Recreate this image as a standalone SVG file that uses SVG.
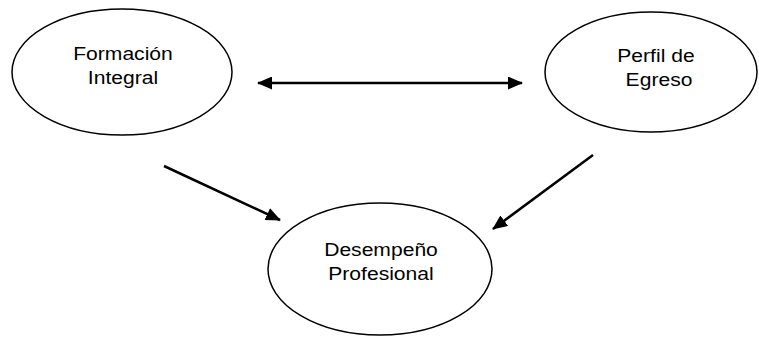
<svg xmlns="http://www.w3.org/2000/svg" width="759" height="337" viewBox="0 0 759 337">
<defs>
<style>
.node ellipse{fill:#fff;stroke:#000;stroke-width:1.5}
.node text{font-family:"Liberation Sans",Arial,sans-serif;font-size:18.5px;fill:#000;text-anchor:middle}
.conn line{stroke:#000;stroke-width:2.5}
</style>
<marker id="ah" viewBox="0 0 15 13" refX="14" refY="6.5" markerWidth="15" markerHeight="13" markerUnits="userSpaceOnUse" orient="auto-start-reverse">
<path d="M0,0 L15,6.5 L0,13 z" fill="#000"/>
</marker>
</defs>
<rect width="759" height="337" fill="#fff"/>
<g id="formacion" class="node">
<ellipse cx="122" cy="72" rx="110" ry="63"/>
<text x="123" y="60" transform="translate(123 0) scale(1.14 1) translate(-123 0)">Formación</text>
<text x="123" y="84" transform="translate(123 0) scale(1.14 1) translate(-123 0)">Integral</text>
</g>
<g id="perfil" class="node">
<ellipse cx="651" cy="72" rx="106" ry="60"/>
<text x="656" y="62" transform="translate(656 0) scale(1.14 1) translate(-656 0)">Perfil de</text>
<text x="659" y="86" transform="translate(659 0) scale(1.14 1) translate(-659 0)">Egreso</text>
</g>
<g id="desempeno" class="node">
<ellipse cx="380" cy="269" rx="112" ry="66"/>
<text x="381" y="256" transform="translate(381 0) scale(1.14 1) translate(-381 0)">Desempeño</text>
<text x="381" y="280" transform="translate(381 0) scale(1.14 1) translate(-381 0)">Profesional</text>
</g>
<g id="connectors" class="conn">
<line x1="258" y1="83" x2="522" y2="83" marker-start="url(#ah)" marker-end="url(#ah)"/>
<line x1="164" y1="166" x2="280" y2="220" marker-end="url(#ah)"/>
<line x1="593" y1="155" x2="493" y2="229" marker-end="url(#ah)"/>
</g>
</svg>
